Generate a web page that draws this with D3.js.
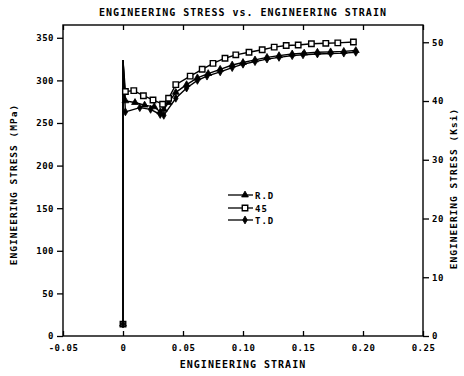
<!DOCTYPE html>
<html>
<head>
<meta charset="utf-8">
<script src="https://cdn.jsdelivr.net/npm/d3@7"></script>
<style>
  html, body { margin: 0; padding: 0; background: #fff; }
  svg { display: block; }
  text { font-family: "DejaVu Sans Mono", monospace; font-weight: bold; fill: #000; }
</style>
</head>
<body>
<svg id="chart" width="464" height="376"></svg>
<script>
// ---- Data ----
const title = "ENGINEERING STRESS vs. ENGINEERING STRAIN";
const xLabel = "ENGINEERING STRAIN";
const yLabelLeft = "ENGINEERING STRESS (MPa)";
const yLabelRight = "ENGINEERING STRESS (Ksi)";

const xTicks = [-0.05, 0, 0.05, 0.10, 0.15, 0.20, 0.25];
const xTickLabels = ["-0.05", "0", "0.05", "0.10", "0.15", "0.20", "0.25"];
const yTicksMPa = [0, 50, 100, 150, 200, 250, 300, 350];
const yTicksKsi = [0, 10, 20, 30, 40, 50];

const xDomain = [-0.05, 0.25];
const yDomainMPa = [0, 365];
const MPA_PER_KSI = 6.894757;

// elastic loading segment (strain ~ 0)
const initialStress = 14;
const upperYield = 324;

// [strain, stress MPa]
const seriesRD = [
  [0.002, 276], [0.010, 274], [0.018, 271], [0.026, 269], [0.031, 263],
  [0.034, 266], [0.038, 274], [0.044, 286], [0.053, 295], [0.062, 303],
  [0.071, 308], [0.081, 313], [0.091, 318], [0.100, 321], [0.110, 324],
  [0.120, 327], [0.130, 329], [0.141, 331], [0.151, 332], [0.162, 333],
  [0.173, 333.5], [0.184, 334], [0.194, 335]
];
const series45 = [
  [0.002, 287], [0.009, 288], [0.017, 282], [0.025, 277], [0.033, 272],
  [0.038, 279], [0.044, 295], [0.056, 305], [0.066, 313], [0.075, 320],
  [0.085, 326], [0.094, 330], [0.105, 333], [0.116, 336], [0.126, 339],
  [0.136, 341], [0.146, 341.5], [0.157, 343], [0.169, 343.5], [0.179, 344],
  [0.192, 345]
];
const seriesTD = [
  [0.002, 263], [0.014, 268], [0.023, 266], [0.031, 260], [0.034, 259],
  [0.044, 279], [0.053, 291], [0.062, 300], [0.070, 305], [0.081, 310],
  [0.091, 315], [0.100, 319], [0.110, 322], [0.120, 325], [0.130, 327],
  [0.141, 329], [0.150, 330], [0.162, 331], [0.173, 331.5], [0.184, 332],
  [0.194, 333]
];

const legendNames = ["R.D", "45", "T.D"];
const legendSymbols = ["triangle", "square", "diamond"];

// ---- Layout ----
const svg = d3.select("#chart");
const mLeft = 63, mRight = 423, mTop = 25, mBottom = 336;

const x = d3.scaleLinear().domain(xDomain).range([mLeft, mRight]);
const y = d3.scaleLinear().domain(yDomainMPa).range([mBottom, mTop]);
const yK = d3.scaleLinear().domain([yDomainMPa[0] / MPA_PER_KSI, yDomainMPa[1] / MPA_PER_KSI]).range([mBottom, mTop]);

const axisStyle = g => {
  g.select(".domain").remove();
  g.selectAll("line").attr("stroke", "#000").attr("stroke-width", 1.3);
  g.selectAll("text").attr("font-size", 9).attr("letter-spacing", 0.5)
    .attr("font-family", "DejaVu Sans Mono").attr("font-weight", "bold").attr("fill", "#000");
};

// bottom axis: ticks inward
svg.append("g").attr("transform", `translate(0,${mBottom})`)
  .call(d3.axisBottom(x).tickValues(xTicks).tickSize(-5).tickPadding(9)
    .tickFormat((d, i) => xTickLabels[i]))
  .call(axisStyle);
// top axis: ticks inward, no labels
svg.append("g").attr("transform", `translate(0,${mTop})`)
  .call(d3.axisTop(x).tickValues(xTicks).tickSize(-5).tickFormat(""))
  .call(axisStyle);
// left axis: ticks outward
svg.append("g").attr("transform", `translate(${mLeft},0)`)
  .call(d3.axisLeft(y).tickValues(yTicksMPa).tickSize(6).tickPadding(3))
  .call(axisStyle);
// right axis (ksi): ticks outward
svg.append("g").attr("transform", `translate(${mRight},0)`)
  .call(d3.axisRight(yK).tickValues(yTicksKsi).tickSize(6).tickPadding(3))
  .call(axisStyle);

// frame
svg.append("rect").attr("x", mLeft).attr("y", mTop)
  .attr("width", mRight - mLeft).attr("height", mBottom - mTop)
  .attr("fill", "none").attr("stroke", "#000").attr("stroke-width", 1.4);

// titles
svg.append("text").attr("x", 243).attr("y", 16).attr("text-anchor", "middle")
  .attr("font-size", 10).attr("letter-spacing", 1).text(title);
svg.append("text").attr("x", 243).attr("y", 368).attr("text-anchor", "middle")
  .attr("font-size", 10).attr("letter-spacing", 1).text(xLabel);
svg.append("text").attr("transform", `translate(17,${(mTop + mBottom) / 2 + 4}) rotate(-90)`)
  .attr("text-anchor", "middle").attr("font-size", 9.5).attr("letter-spacing", 1).text(yLabelLeft);
svg.append("text").attr("transform", `translate(457,${(mTop + mBottom) / 2 + 8}) rotate(-90)`)
  .attr("text-anchor", "middle").attr("font-size", 9.5).attr("letter-spacing", 1).text(yLabelRight);

// ---- Series ----
const line = d3.line().x(d => x(d[0])).y(d => y(d[1]));
const symbolMap = {
  triangle: d3.symbol().type(d3.symbolTriangle).size(20),
  square: d3.symbol().type(d3.symbolSquare).size(30),
  diamond: d3.symbol().type(d3.symbolDiamond).size(18)
};
const drawMarker = (sel, sym) => {
  sel.attr("d", symbolMap[sym]())
    .attr("fill", sym === "square" ? "#fff" : "#000")
    .attr("stroke", "#000").attr("stroke-width", sym === "square" ? 1.4 : 0.8);
};

const allSeries = [seriesRD, series45, seriesTD];
allSeries.forEach((s) => {
  const pts = [[0, initialStress], [0, upperYield]].concat(s);
  svg.append("path").datum(pts).attr("d", line)
    .attr("fill", "none").attr("stroke", "#000").attr("stroke-width", 1.4);
});
allSeries.forEach((s, i) => {
  const sym = legendSymbols[i];
  svg.append("g").selectAll("path").data([[0, initialStress]].concat(s)).join("path")
    .attr("transform", d => `translate(${x(d[0])},${y(d[1])})`)
    .call(drawMarker, sym);
});

// ---- Legend ----
const legendY = [195, 208, 220];
legendNames.forEach((name, i) => {
  const g = svg.append("g");
  g.append("line").attr("x1", 228).attr("x2", 253).attr("y1", legendY[i]).attr("y2", legendY[i])
    .attr("stroke", "#000").attr("stroke-width", 1.3);
  g.append("path").attr("transform", `translate(245,${legendY[i]})`).call(drawMarker, legendSymbols[i]);
  g.append("text").attr("x", 255).attr("y", legendY[i] + 3.5).attr("font-size", 9)
    .attr("letter-spacing", 1).text(name);
});
</script>
</body>
</html>
